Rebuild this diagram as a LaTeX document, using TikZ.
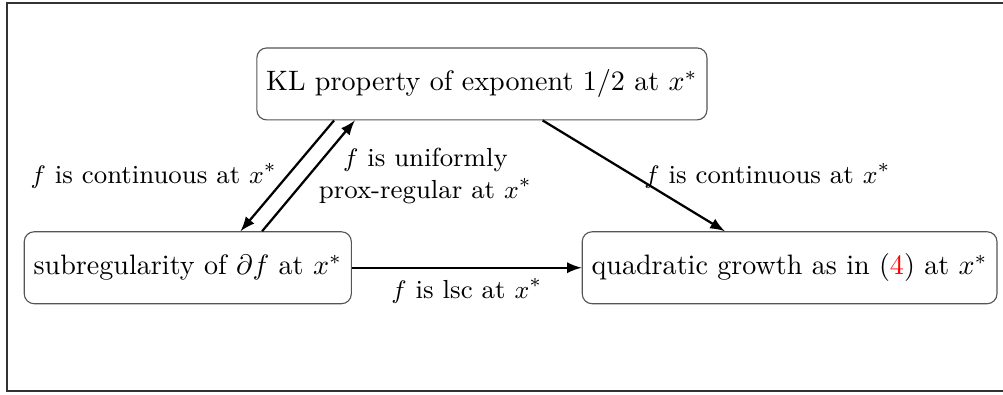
\documentclass[tikz,border=0pt]{standalone}
\usepackage{xcolor}
\usepackage{tikz}
\usepackage{amsmath}
\definecolor{frameGray}{HTML}{333333}
\definecolor{boxGray}{HTML}{555555}
\tikzset{
  prop/.style={rectangle,rounded corners=3.5pt,draw=boxGray,thin,
    minimum height=0.9cm,align=center},
  arrow/.style={->,>=latex,thick},
  labelstyle/.style={align=center,font=\fontsize{9.3pt}{11.5pt}\selectfont}
}

\begin{document}
\begin{tikzpicture}[node distance=0.8cm, auto]
\useasboundingbox (-6.03,-3.88) rectangle (6.52,1.05);
\draw[frameGray, line width=0.8pt] (-5.94,-3.84) rectangle (6.60,1.01);
\node[prop] (kl) {KL property of exponent $1/2$ at $x^*$};
\node[prop, below of=kl, xshift=-3.68cm, yshift=-1.5cm] (subreg) {subregularity of $\partial f$ at $x^*$};
\node[prop, below of=kl, xshift=3.85cm, yshift=-1.5cm] (qg) {quadratic growth as in (\textcolor{red}{4}) at $x^*$};

\draw[arrow] ([xshift=-1.85cm]kl.south) -- node[left, labelstyle] {$f$ is continuous at $x^*$} ([xshift=0.66cm]subreg.north);
\draw[arrow] ([xshift=0.93cm]subreg.north) -- node[right, labelstyle] {$f$ is uniformly\\prox-regular at $x^*$} ([xshift=-1.59cm]kl.south);
\draw[arrow] ([xshift=0.76cm]kl.south) -- node[right, labelstyle] {$f$ is continuous at $x^*$} ([xshift=-0.81cm]qg.north);
\draw[arrow] (subreg) -- node[below, labelstyle] {$f$ is lsc at $x^*$} (qg);
\end{tikzpicture}
\end{document}
